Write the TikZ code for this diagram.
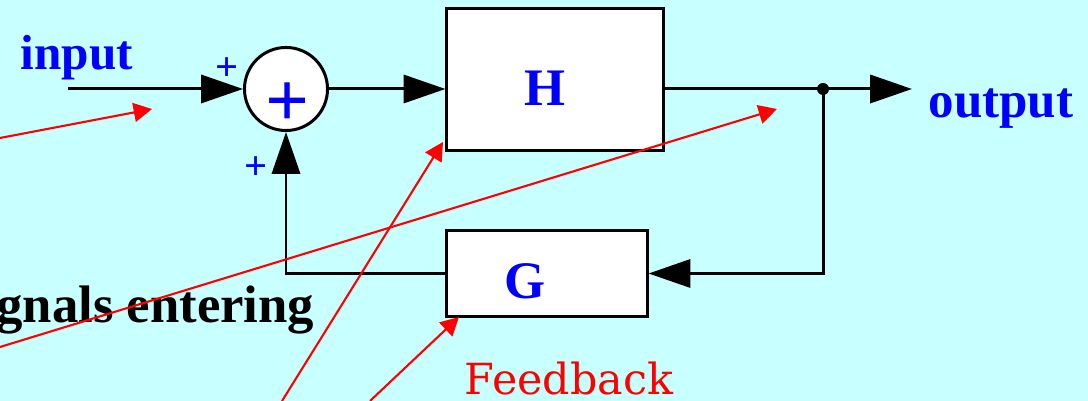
\documentclass[tikz,border=0pt]{standalone}
\usepackage{fontspec}
\setmainfont{Liberation Serif}
\newfontfamily\notefont{DejaVu Serif}
\usetikzlibrary{arrows.meta,positioning,calc}
\definecolor{bgcyan}{RGB}{200,255,255}

\begin{document}
\begin{tikzpicture}[x=0.01cm, y=-0.01cm,
		blk/.style={line width=0.85pt},
		sig/.style={blk, -{Triangle[length=11.9pt, width=8pt]}},
		note/.style={red, line width=0.6pt, -{Triangle[length=5.2pt, width=5.4pt]}},
		blockbox/.style={draw, line width=0.85pt, fill=white, inner sep=0pt},
		blocktext/.style={blue, inner sep=0pt, font=\bfseries\fontsize{15}{18}\selectfont},
		sigtext/.style={blue, inner sep=0pt, font=\bfseries\fontsize{14.5}{17}\selectfont},
		pm/.style={blue, inner sep=0pt, font=\bfseries\fontsize{11.5}{13}\selectfont}]

		\useasboundingbox (0,0) rectangle (1088,401);
		\clip (0,0) rectangle (1088,401);
		\fill[bgcyan] (0,0) rectangle (1088,401);

		% summing point
		\node[draw, circle, fill=white, line width=0.85pt, minimum size=0.83cm, inner sep=0pt] (sum) at (286,89) {};
		\node[blue, inner sep=0pt, font=\bfseries\fontsize{22}{24}\selectfont] (bigplus) at (288,105) {+};
		\node[pm] (plusa) at (227,69) {+};
		\node[pm] (plusb) at (256,168) {+};

		% blocks
		\node[blockbox, minimum width=2.16cm, minimum height=1.41cm] (H) at (555,79.5) {};
		\node[blocktext] (Hname) at (545,88) {H};
		\node[blockbox, minimum width=2cm, minimum height=0.85cm] (G) at (547,273.5) {};
		\node[blocktext] (Gname) at (525,281) {G};

		% labels
		\node[sigtext, anchor=base west, font=\bfseries\fontsize{14}{17}\selectfont] (inlbl) at (20,70) {input};
		\node[sigtext, anchor=base west] (outlbl) at (928,118) {output};
		\node[inner sep=0pt, anchor=base east, font=\bfseries\fontsize{15}{18}\selectfont] (entering) at (315,323) {gnals entering};
		\node[red, inner sep=0pt, anchor=base west, font=\notefont\fontsize{12.2}{15}\selectfont] (feedback) at (464,395) {Feedback};

		\coordinate (in) at (68,89);
		\coordinate (jn) at (823,89);
		\coordinate (outtip) at (912,89);

		% signal path
		\draw[sig] (in) -- (sum.west);
		\draw[sig] (sum.east) -- (sum.east -| H.west);
		\draw[blk] (H.east |- jn) -- (jn);
		\draw[sig] (jn) -- (outtip);
		\fill (jn) circle (6);
		\draw[sig] (jn) -- (jn |- G.east) -- (G.east);
		\draw[sig] (G.west) -- (sum.south |- G.west) -- (sum.south);

		% pointers
		\coordinate (p1) at (0,138);
		\coordinate (q1) at (152,109);
		\coordinate (p2) at (0,347);
		\coordinate (q2) at (777,109);
		\coordinate (p3) at (282,401);
		\coordinate (q3) at (443,142);
		\coordinate (p4) at (370,401);
		\coordinate (q4) at (459,317);
		\draw[note] (p1) -- (q1);
		\draw[note] (p2) -- (q2);
		\draw[note] (p3) -- (q3);
		\draw[note] (p4) -- (q4);
	\end{tikzpicture}
\end{document}
